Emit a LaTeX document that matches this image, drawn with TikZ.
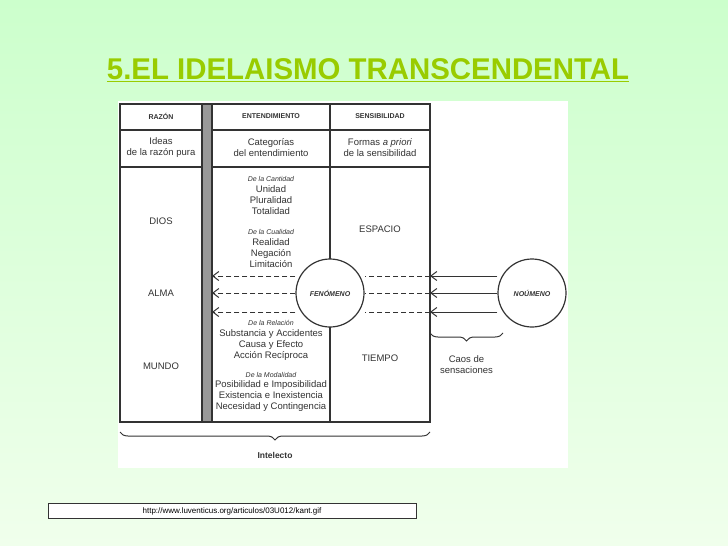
\documentclass[tikz,border=0pt]{standalone}
\usepackage{fontspec}
\setmainfont{Liberation Sans}
\usetikzlibrary{arrows.meta,decorations.pathreplacing}
\definecolor{bgtop}{HTML}{CCFFCC}
\definecolor{bgbot}{HTML}{F0FFEC}
\definecolor{titlegreen}{HTML}{99CC00}
\definecolor{barGray}{HTML}{999999}
\definecolor{ink}{HTML}{333333}
\tikzset{
  txt/.style={font=\fontsize{9.5}{11}\selectfont, text=ink, inner sep=0pt},
  hdr/.style={font=\fontsize{7}{8}\selectfont\bfseries, text=ink, inner sep=0pt},
  cat/.style={font=\fontsize{7}{8}\selectfont\itshape, text=ink, inner sep=0pt},
  circ/.style={draw=ink, line width=1.2pt, circle, minimum size=68pt, fill=white, font=\fontsize{7}{8}\selectfont\bfseries\itshape, text=ink},
  frame/.style={ink, line width=1.2pt},
  flow/.style={ink, line width=1pt, -{Straight Barb[length=6pt,width=9pt]}},
  flowdash/.style={dash pattern=on 5pt off 3pt},
  brace/.style={ink, line width=1pt, decorate, decoration={brace, amplitude=8pt, mirror}}
}
\begin{document}
\begin{tikzpicture}[x=1pt,y=-1pt]
    \shade[top color=bgtop, bottom color=bgbot] (0,0) rectangle (728,546);
    \useasboundingbox (0,0) rectangle (728,546);

    \node[font=\fontsize{30}{34}\selectfont\bfseries, text=titlegreen, inner sep=0pt, xscale=0.98] (title) at (368,70) {\underline{5.EL IDELAISMO TRANSCENDENTAL}};

    \fill[white] (118,101) rectangle (568,468);
    \fill[barGray] (202,104) rectangle (212,422);
    \draw[frame] (120,104) rectangle (430,422);
    \draw[frame] (202,104) -- (202,422) (212,104) -- (212,422);
    \draw[frame] (330,104) -- (330,422);
    \draw[frame] (120,130) -- (202,130) (212,130) -- (430,130);
    \draw[frame] (120,167) -- (202,167) (212,167) -- (430,167);

    % headers
    \node[hdr] (razon) at (161,116) {RAZÓN};
    \node[hdr] (entend) at (271,116) {ENTENDIMIENTO};
    \node[hdr] (sensib) at (380,116) {SENSIBILIDAD};
    \node[txt, align=center] (ideas) at (161,148) {Ideas\\de la razón pura};
    \node[txt, align=center] (categ) at (271,148) {Categorías\\del entendimiento};
    \node[txt, align=center] (formas) at (380,148) {Formas \textit{a priori}\\de la sensibilidad};

    \node[txt] (dios) at (161,221) {DIOS};
    \node[txt] (alma) at (161,293) {ALMA};
    \node[txt] (mundo) at (161,366) {MUNDO};
    \node[txt] (espacio) at (380,229) {ESPACIO};
    \node[txt] (tiempo) at (380,358) {TIEMPO};

    % categorias
    \node[cat] (cant) at (271,179) {De la Cantidad};
    \node[txt, align=center, anchor=north] (cantl) at (271,185) {Unidad\\Pluralidad\\Totalidad};
    \node[cat] (cual) at (271,232) {De la Cualidad};
    \node[txt, align=center, anchor=north] (cuall) at (271,238) {Realidad\\Negación\\Limitación};
    \node[cat] (rel) at (271,323) {De la Relación};
    \node[txt, align=center, anchor=north] (rell) at (271,329) {Substancia y Accidentes\\Causa y Efecto\\Acción Recíproca};
    \node[cat] (moda) at (271,375) {De la Modalidad};
    \node[txt, align=center, anchor=north] (modal) at (271,380) {Posibilidad e Imposibilidad\\Existencia e Inexistencia\\Necesidad y Contingencia};

    % circulos
    \node[circ] (fen) at (330,293) {FENÓMENO};
    \node[circ] (nou) at (532,293) {NOÚMENO};

    \foreach \y [count=\i] in {276,293,312} {
      \coordinate (bar\i) at (212,\y);
      \coordinate (edge\i) at (430,\y);
      \coordinate (fl\i) at (fen.west |- bar\i);
      \coordinate (fr\i) at (fen.east |- bar\i);
      \coordinate (nl\i) at (nou.west |- bar\i);
      \draw[flow, flowdash] (fl\i) -- (bar\i);
      \draw[ink, line width=1pt, flowdash] (edge\i) -- (fr\i);
      \draw[flow] (nl\i) -- (edge\i);
    }

    % llaves
    \draw[brace] (120,432) -- (430,432) node[midway, below=20pt, hdr, font=\fontsize{8.5}{10}\selectfont\bfseries] (intel) {Intelecto};
    \draw[brace] (430,333) -- (503,333) node[midway, below=22pt, txt, align=center] (caos) {Caos de\\sensaciones};

    % fuente
    \node[draw=ink, fill=white, minimum width=368pt, minimum height=15pt, inner sep=0pt, font=\fontsize{8}{9}\selectfont] (url) at (232,511) {http://www.luventicus.org/articulos/03U012/kant.gif};
\end{tikzpicture}
\end{document}
